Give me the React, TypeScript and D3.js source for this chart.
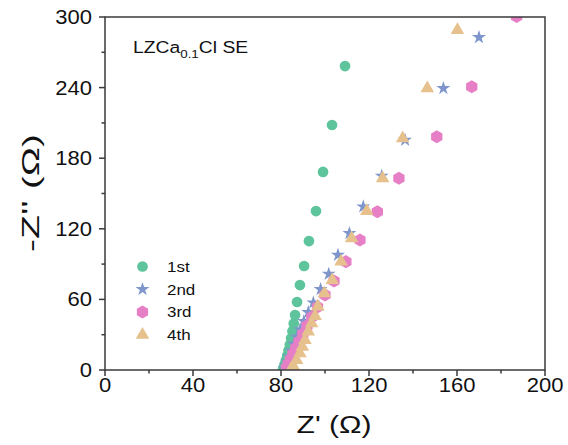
import React from "react";
import * as d3 from "d3";

// Nyquist data: [Z' (Ω), -Z'' (Ω)] for each cycle
const cycle1: [number, number][] = [
  [81.0, 1.5], [81.6, 4.5], [82.2, 8], [82.8, 12], [83.4, 16.5], [84.0, 21.5],
  [84.6, 27], [85.2, 33], [85.8, 39.5], [86.4, 46.7], [87.3, 57.8], [88.6, 72.2],
  [90.5, 88.4], [92.7, 109.6], [95.9, 135.1], [99.1, 168.3], [103.2, 208.2], [109.1, 258.3],
];
const cycle2: [number, number][] = [
  [81.8, 1], [82.3, 3.5], [83.0, 7], [83.8, 11.5], [84.8, 16.5], [85.9, 22],
  [87.2, 28], [88.7, 34.5], [90.4, 41.5], [92.4, 49.0], [94.7, 57.2], [98.0, 68.6],
  [101.7, 81.6], [105.9, 97.7], [111.1, 116.2], [117.4, 138.8], [125.8, 164.9],
  [136.4, 195.5], [153.8, 239.4], [170.0, 282.7],
];
const cycle3: [number, number][] = [
  [82.5, 2], [83.3, 5], [84.3, 9], [85.4, 13.5], [86.7, 18.5], [88.2, 24],
  [89.9, 30.5], [91.8, 37.5], [94.0, 45], [96.6, 53.5], [100.0, 63.7], [104.1, 75.6],
  [109.5, 92.1], [115.9, 110.5], [123.8, 134.5], [133.6, 162.9], [150.8, 198.3],
  [166.7, 240.8], [187.1, 300.5],
];
const cycle4: [number, number][] = [
  [84.5, 0.5], [85.6, 3.4], [87.1, 8.5], [88.6, 14.2], [89.7, 19.8], [90.9, 25.5],
  [92.4, 32.6], [93.9, 39.7], [95.5, 45.9], [96.7, 53.8], [99.7, 65.2], [103.3, 76.5],
  [107.3, 92.1], [112.1, 111.9], [119.0, 135.1], [126.2, 162.9], [135.3, 196.9],
  [146.5, 239.4], [160.2, 288.9],
];

const seriesNames = ["1st", "2nd", "3rd", "4th"];
const xMajor = [0, 40, 80, 120, 160, 200];
const yMajor = [0, 60, 120, 180, 240, 300];

const FONT = "'Liberation Sans', Arial, Helvetica, sans-serif";
const AXIS = "#3a3a3a";
const SX = 1.13; // horizontal widening of the lettering

const hexagon = {
  draw(ctx: any, size: number) {
    const r = Math.sqrt(size / (1.5 * Math.sqrt(3)));
    for (let i = 0; i < 6; i++) {
      const a = -Math.PI / 2 + (i * Math.PI) / 3;
      const px = r * Math.cos(a);
      const py = r * Math.sin(a);
      if (i === 0) ctx.moveTo(px, py);
      else ctx.lineTo(px, py);
    }
    ctx.closePath();
  },
};

const styles = [
  { data: cycle1, color: "#5DC49C", type: d3.symbolCircle, size: 90 },
  { data: cycle2, color: "#7E96CC", type: d3.symbolStar, size: 60 },
  { data: cycle3, color: "#E67FC6", type: hexagon, size: 110 },
  { data: cycle4, color: "#E6C18D", type: d3.symbolTriangle, size: 80 },
];

export default function App() {
  const W = 568, H = 445;
  const left = 105, right = 545, top = 17, bottom = 370;
  const x = d3.scaleLinear().domain([0, 200]).range([left, right]);
  const y = d3.scaleLinear().domain([0, 300]).range([bottom, top]);
  const xMinor = d3.range(20, 200, 40);
  const yMinor = d3.range(30, 300, 60);

  return (
    <svg width={W} height={H} style={{ position: "absolute", left: 0, top: 0, background: "#fff" }}>
      <defs>
        <clipPath id="plot">
          <rect x={left} y={top} width={right - left} height={bottom - top} />
        </clipPath>
      </defs>
      <rect width={W} height={H} fill="#fff" />

      {/* data markers */}
      <g clipPath="url(#plot)">
        {styles.map((s, si) => {
          const path = d3.symbol().type(s.type as any).size(s.size)() as string;
          return (
            <g key={si} fill={s.color}>
              {s.data.map((d, i) => (
                <path key={i} d={path} transform={`translate(${x(d[0])},${y(d[1])})`} />
              ))}
            </g>
          );
        })}
      </g>

      {/* frame */}
      <rect x={left} y={top} width={right - left} height={bottom - top} fill="none" stroke={AXIS} strokeWidth={1.5} />

      {/* x axis ticks */}
      {xMajor.map((t) => (
        <g key={"xm" + t}>
          <line x1={x(t)} x2={x(t)} y1={bottom} y2={bottom + 6} stroke={AXIS} strokeWidth={1.5} />
          <text transform={`translate(${x(t)},392) scale(${SX},1)`} textAnchor="middle" fontFamily={FONT} fontSize={19.5} fill="#111">
            {t}
          </text>
        </g>
      ))}
      {xMinor.map((t) => (
        <line key={"xn" + t} x1={x(t)} x2={x(t)} y1={bottom} y2={bottom + 3.5} stroke={AXIS} strokeWidth={1.5} />
      ))}

      {/* y axis ticks */}
      {yMajor.map((t) => (
        <g key={"ym" + t}>
          <line x1={left - 6} x2={left} y1={y(t)} y2={y(t)} stroke={AXIS} strokeWidth={1.5} />
          <text transform={`translate(92,${y(t) + 7}) scale(${SX},1)`} textAnchor="end" fontFamily={FONT} fontSize={19.5} fill="#111">
            {t}
          </text>
        </g>
      ))}
      {yMinor.map((t) => (
        <line key={"yn" + t} x1={left - 3.5} x2={left} y1={y(t)} y2={y(t)} stroke={AXIS} strokeWidth={1.5} />
      ))}

      {/* axis titles */}
      <text x={334} y={433} textAnchor="middle" fontFamily={FONT} fontSize={23} fill="#111" textLength={75} lengthAdjust="spacingAndGlyphs">
        Z' (Ω)
      </text>
      <text transform="translate(39,193) rotate(-90)" textAnchor="middle" fontFamily={FONT} fontSize={24} fill="#111" textLength={118} lengthAdjust="spacingAndGlyphs">
        -Z'' (Ω)
      </text>

      {/* sample label */}
      <text transform="translate(133,53) scale(1.17,1)" fontFamily={FONT} fontSize={16.5} fill="#111">
        LZCa
        <tspan fontSize={11.5} dy={5}>0.1</tspan>
        <tspan dy={-5}>Cl SE</tspan>
      </text>

      {/* legend */}
      {styles.map((s, i) => {
        const ly = 266.5 + i * 22.8;
        const path = d3.symbol().type(s.type as any).size(s.size)() as string;
        return (
          <g key={"lg" + i}>
            <path d={path} fill={s.color} transform={`translate(142.5,${ly})`} />
            <text transform={`translate(167,${ly + 5.2}) scale(${SX},1)`} fontFamily={FONT} fontSize={15} fill="#111">
              {seriesNames[i]}
            </text>
          </g>
        );
      })}
    </svg>
  );
}
